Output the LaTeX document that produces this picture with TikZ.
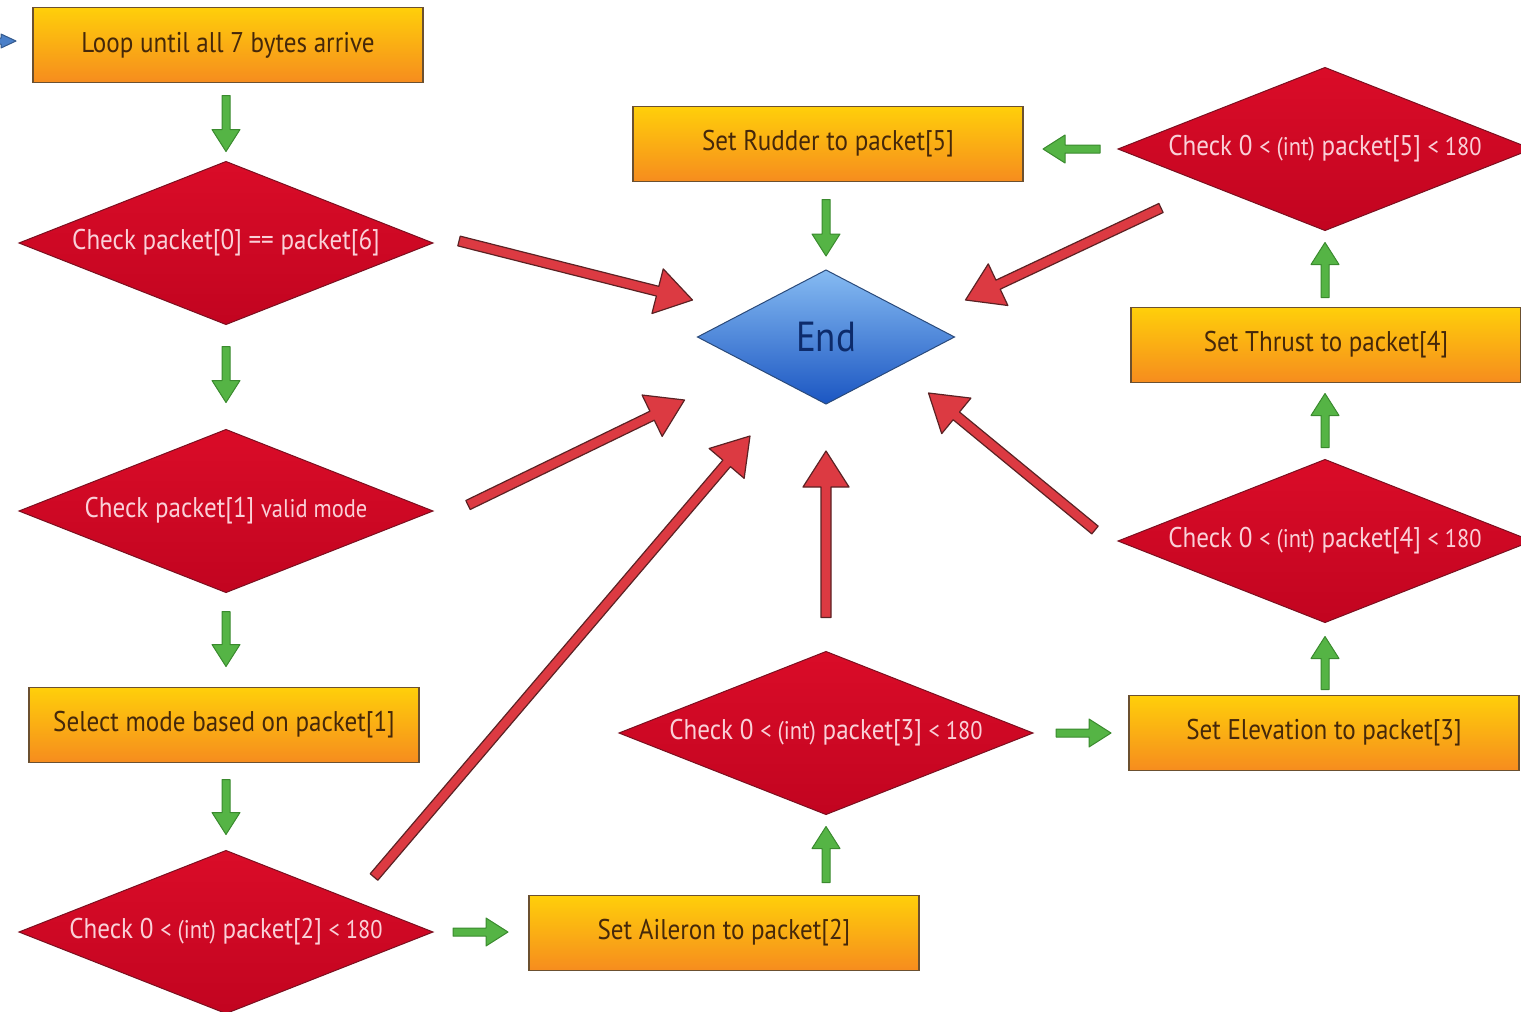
\documentclass[tikz,border=0pt]{standalone}
\usepackage{fontspec}
\setmainfont{PT Sans}[FakeStretch=0.88]
\usetikzlibrary{shapes.geometric,calc}

\definecolor{boxtop}{HTML}{FFCF0A}
\definecolor{boxbot}{HTML}{F68C1E}
\definecolor{boxedge}{HTML}{6B5030}
\definecolor{boxtext}{HTML}{45280A}
\definecolor{dectop}{HTML}{DA0C28}
\definecolor{decbot}{HTML}{C20420}
\definecolor{decedge}{HTML}{7A1020}
\definecolor{dectext}{HTML}{FAD0D8}
\definecolor{endtop}{HTML}{86BBF2}
\definecolor{endbot}{HTML}{1B56C2}
\definecolor{endedge}{HTML}{2A4A7A}
\definecolor{endtext}{HTML}{0D2B6B}
\definecolor{gfill}{HTML}{55B445}
\definecolor{gedge}{HTML}{3A8A2E}
\definecolor{rfill}{HTML}{DC3A42}
\definecolor{redge}{HTML}{5B2224}
\definecolor{bfill}{HTML}{4A7FC8}

% smaller type used for the operators inside the tests
\newcommand\sm[1]{{\fontsize{25.5}{30}\selectfont #1}}

% block arrow: style, tail, tip, half shaft width, half head width, head length
\newcommand\blockarrow[6]{%
  \coordinate (#3-base) at ($(#3)!#6pt!(#2)$);
  \filldraw[#1] ($(#2)!#4pt!90:(#3)$) -- ($(#3-base)!#4pt!-90:(#2)$)
    -- ($(#3-base)!#5pt!-90:(#2)$) -- (#3) -- ($(#3-base)!#5pt!90:(#2)$)
    -- ($(#3-base)!#4pt!90:(#2)$) -- ($(#2)!#4pt!-90:(#3)$) -- cycle;}
\newcommand\greenarrow[2]{\blockarrow{gstyle}{#1}{#2}{4}{14}{22}}
\newcommand\redarrow[2]{\blockarrow{rstyle}{#1}{#2}{5}{23}{36}}

\begin{document}
\begin{tikzpicture}[x=1pt,y=-1pt,
  actbox/.style={rectangle, draw=boxedge, line width=1.4pt,
    top color=boxtop, bottom color=boxbot,
    minimum width=390pt, minimum height=75pt, inner sep=0pt, outer sep=0pt,
    text=boxtext, font=\fontsize{28.5}{34}\selectfont},
  testnode/.style={diamond, shape aspect=2.54, draw=decedge, line width=1pt,
    top color=dectop, bottom color=decbot,
    minimum width=414pt, minimum height=163pt, inner sep=0pt, outer sep=0pt,
    text=dectext, font=\fontsize{28.5}{34}\selectfont},
  endnode/.style={diamond, shape aspect=1.9, draw=endedge, line width=1pt,
    top color=endtop, bottom color=endbot,
    minimum width=257pt, minimum height=134pt, inner sep=0pt, outer sep=0pt,
    text=endtext, font=\fontsize{42}{48}\selectfont},
  gstyle/.style={fill=gfill, draw=gedge, line width=1pt, line join=round},
  rstyle/.style={fill=rfill, draw=redge, line width=1.2pt, line join=round},
  bstyle/.style={fill=bfill, draw=bfill!70!black, line width=1pt, line join=round}]

\useasboundingbox (0,0) rectangle (1521,1012);
\clip (0,0) rectangle (1521,1012);

% left column
\node[actbox]   (loop) at (228,45)  {Loop until all 7 bytes arrive};
\node[testnode] (c0)   at (226,243) {Check packet[0] == packet[6]};
\node[testnode] (c1)   at (226,511) {Check packet[1] \sm{valid mode}};
\node[actbox]   (sel)  at (224,725) {Select mode based on packet[1]};
\node[testnode] (c2)   at (226,932) {Check 0 \sm{< (int)} packet[2] \sm{< 180}};

% middle
\node[actbox]   (ail)  at (724,933) {Set Aileron to packet[2]};
\node[testnode] (c3)   at (826,733) {Check 0 \sm{< (int)} packet[3] \sm{< 180}};
\node[endnode]  (end)  at (826,337) {End};
\node[actbox]   (rud)  at (828,144) {Set Rudder to packet[5]};

% right column
\node[actbox]   (elv)  at (1324,733) {Set Elevation to packet[3]};
\node[testnode] (c4)   at (1325,541) {Check 0 \sm{< (int)} packet[4] \sm{< 180}};
\node[actbox]   (thr)  at (1326,345) {Set Thrust to packet[4]};
\node[testnode] (c5)   at (1325,149) {Check 0 \sm{< (int)} packet[5] \sm{< 180}};

% incoming flow
\coordinate (ins) at ($(loop.west)+(-70,-4)$);
\coordinate (inx) at ($(loop.west)+(-17,-4)$);
\blockarrow{bstyle}{ins}{inx}{3}{7}{15}

% main flow
\coordinate (g1s) at ($(loop.south)+(-2,13)$);
\coordinate (g1e) at ($(c0.north)+(0,-10)$);
\greenarrow{g1s}{g1e}
\coordinate (g2s) at ($(c0.south)+(0,22)$);
\coordinate (g2e) at ($(c1.north)+(0,-27)$);
\greenarrow{g2s}{g2e}
\coordinate (g3s) at ($(c1.south)+(0,19)$);
\coordinate (g3e) at ($(sel.north)+(2,-21)$);
\greenarrow{g3s}{g3e}
\coordinate (g4s) at ($(sel.south)+(2,17)$);
\coordinate (g4e) at ($(c2.north)+(0,-16)$);
\greenarrow{g4s}{g4e}
\coordinate (g5s) at ($(c2.east)+(20,0)$);
\coordinate (g5e) at ($(ail.west |- c2.east)+(-21,0)$);
\greenarrow{g5s}{g5e}
\coordinate (g6s) at ($(c3.south |- ail.north)+(0,-13)$);
\coordinate (g6e) at ($(c3.south)+(0,12)$);
\greenarrow{g6s}{g6e}
\coordinate (g7s) at ($(c3.east)+(23,0)$);
\coordinate (g7e) at ($(elv.west)+(-18,0)$);
\greenarrow{g7s}{g7e}
\coordinate (g8s) at ($(c4.south |- elv.north)+(0,-6)$);
\coordinate (g8e) at ($(c4.south)+(0,14)$);
\greenarrow{g8s}{g8e}
\coordinate (g9s) at ($(c4.north)+(0,-12)$);
\coordinate (g9e) at ($(c4.north |- thr.south)+(0,11)$);
\greenarrow{g9s}{g9e}
\coordinate (g10s) at ($(c5.south |- thr.north)+(0,-10)$);
\coordinate (g10e) at ($(c5.south)+(0,12)$);
\greenarrow{g10s}{g10e}
\coordinate (g11s) at ($(c5.west)+(-18,0)$);
\coordinate (g11e) at ($(rud.east |- c5.west)+(20,0)$);
\greenarrow{g11s}{g11e}
\coordinate (g12s) at ($(end.north |- rud.south)+(0,18)$);
\coordinate (g12e) at ($(end.north)+(0,-14)$);
\greenarrow{g12s}{g12e}

% failed checks lead to End
\coordinate (r0s) at ($(c0.east)+(26,-2)$);
\coordinate (r0e) at ($(end.west)+(-5,-37)$);
\redarrow{r0s}{r0e}
\coordinate (r1s) at ($(c1.east)+(35,-6)$);
\coordinate (r1e) at ($(end.west)+(-13,63)$);
\redarrow{r1s}{r1e}
\coordinate (r2s) at ($(c2.east)+(-59,-55)$);
\coordinate (r2e) at ($(end.south)+(-76,32)$);
\redarrow{r2s}{r2e}
\coordinate (r3s) at ($(c3.north)+(0,-34)$);
\coordinate (r3e) at ($(end.south)+(0,47)$);
\redarrow{r3s}{r3e}
\coordinate (r4s) at ($(c4.west)+(-23,-11)$);
\coordinate (r4e) at ($(end.east)+(-26,56)$);
\redarrow{r4s}{r4e}
\coordinate (r5s) at ($(c5.west)+(43,59)$);
\coordinate (r5e) at ($(end.east)+(11,-37)$);
\redarrow{r5s}{r5e}
\end{tikzpicture}
\end{document}
